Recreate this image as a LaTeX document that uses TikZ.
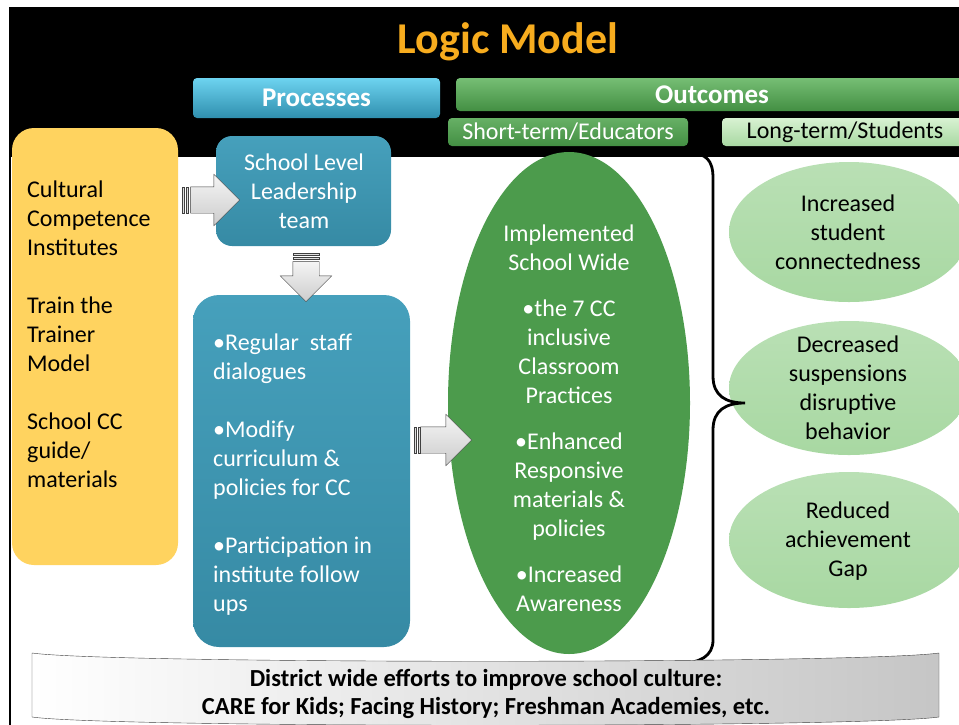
\documentclass[tikz,border=0pt]{standalone}
\usepackage{fontspec}
\setmainfont{Carlito}
\usepackage{tikz}
\usepackage{xcolor}
\usetikzlibrary{shapes, shapes.geometric, shapes.arrows, positioning}

\definecolor{titlegold}{HTML}{F7AC1E}
\definecolor{proctop}{HTML}{6DD3F0}
\definecolor{procbot}{HTML}{2F8FAE}
\definecolor{tealtop}{HTML}{46A0BC}
\definecolor{tealbot}{HTML}{368AA4}
\definecolor{inputyellow}{HTML}{FFD35F}
\definecolor{outtop}{HTML}{76BE74}
\definecolor{outbot}{HTML}{438F43}
\definecolor{midgreen}{HTML}{4C9B4C}
\definecolor{palegreen}{HTML}{A8D8A2}
\definecolor{paletop}{HTML}{D8F2D2}

\tikzset{
    txt/.style={font=\fontsize{24}{29}\selectfont, inner sep=0pt},
    headbox/.style={rounded corners=4, inner sep=0pt, text=white},
    tealbox/.style={top color=tealtop, bottom color=tealbot, inner sep=0pt},
    blockarrow/.style={single arrow, rotate=#1, inner xsep=0pt, inner ysep=13pt,
        single arrow head extend=12.5pt, single arrow tip angle=90,
        single arrow head indent=0pt, top color=gray!8, bottom color=gray!40,
        draw=gray!50!black, thin},
    blockarrow/.default=0,
    stripe/.style={fill=gray!25, draw=gray!50!black, thin},
    longterm/.style={ellipse, top color=palegreen!80!white, bottom color=palegreen, minimum width=240, inner sep=0pt}
}

\begin{document}
\begin{tikzpicture}[x=1pt, y=-1pt]
        \useasboundingbox (0,0) rectangle (959,724);
        \clip (0,0) rectangle (959,724);

        % slide frame and dark header band
        \fill[black] (10,8) rectangle (965,157);
        \draw[line width=2.5] (10,8) rectangle (968,730);
        \node[font=\bfseries\fontsize{44}{48}\selectfont, text=titlegold] (title) at (508,42) {Logic Model};

        % column headers
        \node[headbox, top color=proctop, bottom color=procbot, minimum width=247, minimum height=40,
            font=\bfseries\fontsize{27}{30}\selectfont] (proc) at (316.5,98) {Processes};
        \node[headbox, top color=outtop, bottom color=outbot, minimum width=512, minimum height=33,
            font=\bfseries\fontsize{27}{30}\selectfont] (outc) at (712,94.5) {Outcomes};
        \node[headbox, top color=outtop!70!outbot, bottom color=outbot, minimum width=240, minimum height=28,
            font=\fontsize{24}{28}\selectfont] (short) at (568,132) {Short-term/Educators};
        \node[headbox, top color=paletop, bottom color=palegreen, minimum width=246, minimum height=28,
            text=black, font=\fontsize{24}{28}\selectfont] (long) at (845,132) {Long-term/Students};

        % inputs
        \node[rounded corners=22, fill=inputyellow, minimum width=166, minimum height=437] (inputs) at (95,346.5) {};
        \node[txt, align=left, anchor=west] (inputtext) at (27,334)
            {Cultural\\Competence\\Institutes\\[29pt]Train the\\Trainer\\Model\\[29pt]School CC\\guide/\\materials};

        % processes
        \node[tealbox, rounded corners=16, minimum width=175, minimum height=110] (lead) at (303.5,191) {};
        \node[txt, align=center, text=white] (leadtext) at (304,191) {School Level\\Leadership\\team};
        \node[tealbox, rounded corners=26, minimum width=217, minimum height=352] (actions) at (301.5,471) {};
        \node[txt, align=left, anchor=west, text=white] (actiontext) at (213,475)
            {•Regular\ \ staff\\dialogues\\[29pt]•Modify\\curriculum \&\\policies for CC\\[29pt]•Participation in\\institute follow\\ups};

        % short-term outcomes
        \node[ellipse, fill=midgreen, minimum width=242, minimum height=502, inner sep=0pt] (shortterm) at (569,403) {};
        \node[txt, align=center, text=white] (shorttext) at (569,418)
            {Implemented\\School Wide\\[17pt]•the 7 CC\\inclusive\\Classroom\\Practices\\[17pt]•Enhanced\\Responsive\\materials \&\\policies\\[17pt]•Increased\\Awareness};

        % long-term outcomes
        \node[longterm, minimum height=140] (connect) at (849,232) {};
        \node[txt, align=center] (connecttext) at (848,232) {Increased\\student\\connectedness};
        \node[longterm, minimum height=134] (suspend) at (849,388) {};
        \node[txt, align=center] (suspendtext) at (848,388) {Decreased\\suspensions\\disruptive\\behavior};
        \node[longterm, minimum height=136] (gap) at (849,540) {};
        \node[txt, align=center] (gaptext) at (848,541) {Reduced\\achievement\\Gap};

        % block arrows
        \node[blockarrow, minimum height=49] (a1) at (208.5,200) {};
        \node[blockarrow=-90, minimum height=40] (a2) at (306,275) {};
        \node[blockarrow, minimum height=51] (a3) at (439.5,440) {};
        \draw[stripe] ([xshift=-8pt,yshift=-13pt]a1.tail) rectangle ([xshift=-6pt,yshift=13pt]a1.tail);
        \draw[stripe] ([xshift=-4.5pt,yshift=-13pt]a1.tail) rectangle ([xshift=-2pt,yshift=13pt]a1.tail);
        \draw[stripe] ([xshift=-13pt,yshift=6pt]a2.tail) rectangle ([xshift=13pt,yshift=8pt]a2.tail);
        \draw[stripe] ([xshift=-13pt,yshift=2pt]a2.tail) rectangle ([xshift=13pt,yshift=4.5pt]a2.tail);
        \draw[stripe] ([xshift=-6pt,yshift=-13pt]a3.tail) rectangle ([xshift=-4pt,yshift=13pt]a3.tail);
        \draw[stripe] ([xshift=-2.5pt,yshift=-13pt]a3.tail) rectangle ([xshift=-0.5pt,yshift=13pt]a3.tail);

        % brace from short-term to long-term
        \draw[line width=2.8, line cap=round] (688,153) .. controls (706,153) and (713,160) .. (713,178)
            -- (713,376) .. controls (713,396) and (726,403) .. (745,403)
            .. controls (726,403) and (713,410) .. (713,430)
            -- (713,640) .. controls (713,656) and (700,663) .. (681,663);

        % district banner
        \draw[left color=white, right color=gray!45, draw=black!75]
            (32,653) .. controls (110,664) and (860,664) .. (939,653) -- (939,717)
            .. controls (860,728) and (110,728) .. (32,717) -- cycle;
        \node[align=center, inner sep=0pt, font=\bfseries\fontsize{24.5}{28}\selectfont] (district) at (486,694)
            {District wide efforts to improve school culture:\\CARE for Kids; Facing History; Freshman Academies, etc.};
    \end{tikzpicture}
\end{document}
